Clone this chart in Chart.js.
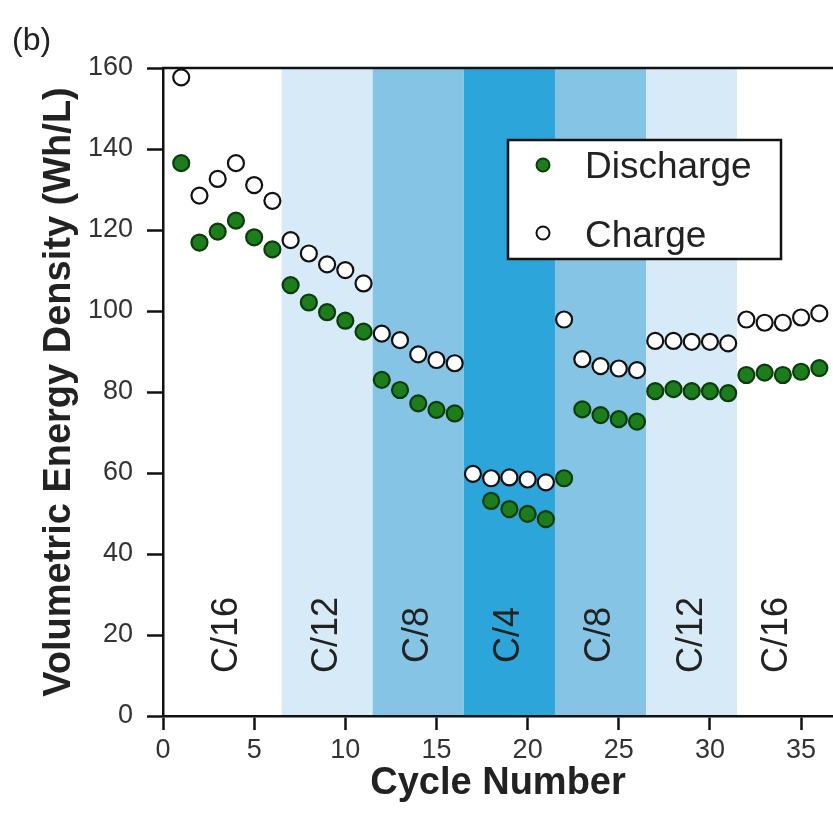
<!DOCTYPE html>
<html><head><meta charset="utf-8">
<script src="https://cdn.jsdelivr.net/npm/chart.js@4.4.0/dist/chart.umd.min.js"></script>
<style>html,body{margin:0;padding:0;background:#fff;} canvas{display:block;}</style>
</head><body>
<canvas id="c" width="833" height="814"></canvas>
<script>
// ---- data ----
const cycles = [1,2,3,4,5,6,7,8,9,10,11,12,13,14,15,16,17,18,19,20,21,22,23,24,25,26,27,28,29,30,31,32,33,34,35,36];
const discharge = [136.5,116.9,119.6,122.3,118.2,115.2,106.4,102.1,99.7,97.6,94.9,83.0,80.5,77.2,75.6,74.7,null,53.1,51.1,49.9,48.6,58.7,75.7,74.3,73.3,72.7,80.2,80.7,80.2,80.2,79.7,84.2,84.8,84.2,85.0,85.9];
const charge = [157.7,128.5,132.6,136.5,131.1,127.2,117.5,114.2,111.5,110.1,106.8,94.4,92.8,89.3,87.9,87.1,59.8,58.7,58.9,58.4,57.7,97.9,88.1,86.4,85.8,85.4,92.6,92.6,92.4,92.4,92.0,97.9,97.1,97.1,98.4,99.4];
const seriesNames = ['Discharge','Charge'];
const xTicks = [0,5,10,15,20,25,30,35];
const yTicks = [0,20,40,60,80,100,120,140,160];
const bandStarts = [0,6.5,11.5,16.5,21.5,26.5,31.5];
const bandEnds = [6.5,11.5,16.5,21.5,26.5,31.5,36.75];
const bandRates = ['C/16','C/12','C/8','C/4','C/8','C/12','C/16'];
const bandLabelX = [3.5,9,14,19,24,29,33.7];
const bandLabelY = 20;

// ---- styles ----
const FONT = "'Liberation Sans', Arial, Helvetica, sans-serif";
const bandColors = {'C/16':'#ffffff','C/12':'#d7eaf7','C/8':'#86c4e5','C/4':'#2ca5da'};
const dischargeFill = '#1d7d1d', dischargeEdge = '#0c3b0c';
const chargeFill = '#ffffff', chargeEdge = '#111111';

const bandPlugin = {
  id: 'bands',
  beforeDraw(chart) {
    const {ctx, chartArea: a, scales: {x, y}} = chart;
    ctx.save();
    bandStarts.forEach((s, i) => {
      const x0 = x.getPixelForValue(s), x1 = x.getPixelForValue(bandEnds[i]);
      ctx.fillStyle = bandColors[bandRates[i]];
      ctx.fillRect(x0, a.top, x1 - x0, a.bottom - a.top);
    });
    ctx.font = '36px ' + FONT;
    ctx.fillStyle = '#222';
    ctx.textAlign = 'center';
    ctx.textBaseline = 'middle';
    bandRates.forEach((r, i) => {
      ctx.save();
      ctx.translate(x.getPixelForValue(bandLabelX[i]), y.getPixelForValue(bandLabelY));
      ctx.rotate(-Math.PI / 2);
      ctx.fillText(r, 0, 0);
      ctx.restore();
    });
    ctx.restore();
  },
  beforeDatasetsDraw(chart) {
    const {ctx, chartArea: a} = chart;
    ctx.save();
    ctx.strokeStyle = '#111';
    ctx.lineWidth = 2.5;
    ctx.beginPath();
    ctx.moveTo(a.left - 1, a.top);
    ctx.lineTo(a.right, a.top);
    ctx.stroke();
    ctx.restore();
  },
  afterDraw(chart) {
    const {ctx, chartArea: a} = chart;
    ctx.save();
    const bx = a.left + 345, by = a.top + 72, bw = 273, bh = 119;
    ctx.fillStyle = '#fff';
    ctx.fillRect(bx, by, bw, bh);
    ctx.strokeStyle = '#111';
    ctx.lineWidth = 2.5;
    ctx.strokeRect(bx, by, bw, bh);
    const entries = [
      {name: seriesNames[0], fill: dischargeFill, edge: dischargeEdge, my: 25, ty: 38},
      {name: seriesNames[1], fill: chargeFill, edge: chargeEdge, my: 93, ty: 107}
    ];
    entries.forEach(e => {
      ctx.beginPath();
      ctx.arc(bx + 35, by + e.my, 6.5, 0, Math.PI * 2);
      ctx.fillStyle = e.fill;
      ctx.fill();
      ctx.lineWidth = 2;
      ctx.strokeStyle = e.edge;
      ctx.stroke();
      ctx.fillStyle = '#222';
      ctx.font = '37px ' + FONT;
      ctx.textAlign = 'left';
      ctx.textBaseline = 'alphabetic';
      ctx.fillText(e.name, bx + 77, by + e.ty);
    });
    ctx.font = '32px ' + FONT;
    ctx.fillStyle = '#222';
    ctx.fillText('(b)', 12, 50);
    ctx.restore();
  }
};

new Chart(document.getElementById('c'), {
  type: 'scatter',
  data: {
    datasets: [
      {label: seriesNames[1], data: cycles.map((c, i) => ({x: c, y: charge[i]})),
       backgroundColor: chargeFill, borderColor: chargeEdge, borderWidth: 2.2, pointRadius: 8, order: 0},
      {label: seriesNames[0], data: cycles.map((c, i) => ({x: c, y: discharge[i]})),
       backgroundColor: dischargeFill, borderColor: dischargeEdge, borderWidth: 2.2, pointRadius: 8, order: 1}
    ]
  },
  options: {
    responsive: false,
    animation: false,
    devicePixelRatio: 1,
    layout: {autoPadding: false, padding: {top: 68, left: 0, right: 0, bottom: 0}},
    plugins: {legend: {display: false}, tooltip: {enabled: false}},
    scales: {
      x: {
        type: 'linear', min: 0, max: 36.75,
        afterBuildTicks: s => { s.ticks = xTicks.map(v => ({value: v})); },
        afterFit: s => { s.height = 98; },
        grid: {drawOnChartArea: false, drawTicks: true, tickLength: 14, tickWidth: 2.5, tickColor: '#111'},
        border: {display: true, color: '#111', width: 2.5},
        ticks: {font: {family: FONT, size: 27}, color: '#333', padding: 4, maxRotation: 0, autoSkip: false},
        title: {display: true, text: 'Cycle Number', color: '#222',
                font: {family: FONT, size: 38, weight: 'bold', lineHeight: 1.2}, padding: {top: 0, bottom: 8}}
      },
      y: {
        type: 'linear', min: 0, max: 160,
        afterBuildTicks: s => { s.ticks = yTicks.map(v => ({value: v})); },
        afterFit: s => { s.width = 163; },
        grid: {drawOnChartArea: false, drawTicks: true, tickLength: 16, tickWidth: 2.5, tickColor: '#111'},
        border: {display: true, color: '#111', width: 2.5},
        ticks: {font: {family: FONT, size: 27}, color: '#333', padding: 14, autoSkip: false},
        title: {display: true, text: 'Volumetric Energy Density (Wh/L)', color: '#222',
                font: {family: FONT, size: 38, weight: 'bold', lineHeight: 1.2}, padding: {top: 37, bottom: 0}}
      }
    }
  },
  plugins: [bandPlugin]
});
</script>
</body></html>
